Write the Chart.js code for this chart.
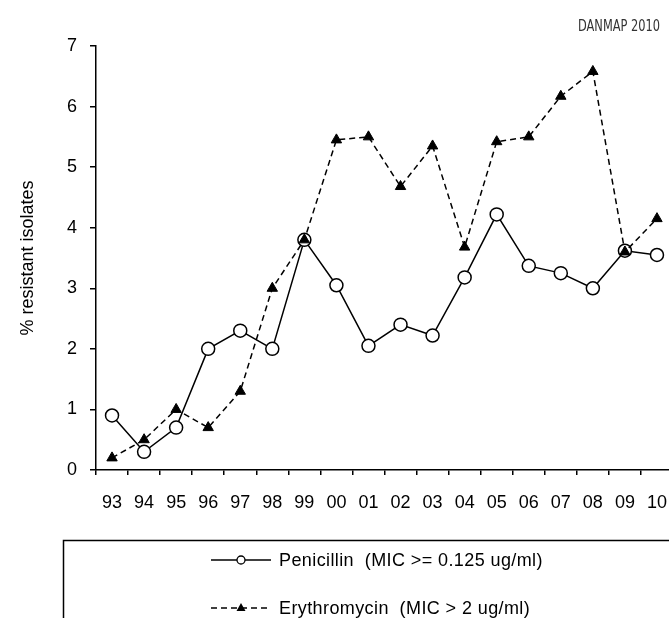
<!DOCTYPE html>
<html>
<head>
<meta charset="utf-8">
<script src="https://cdn.jsdelivr.net/npm/chart.js@4"></script>
<style>
    html, body { margin: 0; padding: 0; background: #fff; overflow: hidden; }
    canvas { display: block; }
</style>
</head>
<body>
<canvas id="resistChart" width="681" height="618"></canvas>
<script>
// values
const years = ['93', '94', '95', '96', '97', '98', '99', '00', '01', '02', '03', '04', '05', '06', '07', '08', '09', '10'];
const penicillin = [0.9, 0.3, 0.7, 2.0, 2.3, 2.0, 3.8, 3.05, 2.05, 2.4, 2.22, 3.18, 4.22, 3.37, 3.25, 3.0, 3.62, 3.55];
const erythromycin = [0.2, 0.5, 1.0, 0.7, 1.3, 3.0, 3.8, 5.45, 5.5, 4.68, 5.35, 3.68, 5.42, 5.5, 6.17, 6.58, 3.6, 4.15];
const yTicks = [0, 1, 2, 3, 4, 5, 6, 7];

const fontFamily = '"Liberation Sans", Arial, sans-serif';

// legend box + source note drawn on top of the chart
const extrasPlugin = {
    id: 'extras',
    afterDraw(chart) {
        const ctx = chart.ctx;
        ctx.save();

        // source note top right, squeezed to the width it has in the original
        ctx.fillStyle = '#333';
        ctx.font = '16px "DejaVu Sans Condensed", "DejaVu Sans", sans-serif';
        ctx.textAlign = 'right';
        ctx.textBaseline = 'middle';
        const noteW = ctx.measureText('DANMAP 2010').width;
        ctx.save();
        ctx.translate(660, 27);
        ctx.scale(Math.min(1, 82 / noteW), 1);
        ctx.fillText('DANMAP 2010', 0, 0);
        ctx.restore();

        // legend frame, runs off the right and bottom edge
        ctx.strokeStyle = '#000';
        ctx.lineWidth = 1.5;
        ctx.strokeRect(63.5, 540.5, chart.width + 20, 120);

        const rows = [560, 608];
        chart.data.datasets.forEach(function(ds, i) {
            const y = rows[i];
            ctx.strokeStyle = '#000';
            ctx.lineWidth = 1.3;
            ctx.setLineDash(ds.borderDash || []);
            ctx.beginPath();
            ctx.moveTo(211, y);
            ctx.lineTo(271, y);
            ctx.stroke();
            ctx.setLineDash([]);

            if (ds.pointStyle === 'circle') {
                ctx.beginPath();
                ctx.arc(241, y, 4, 0, Math.PI * 2);
                ctx.fillStyle = '#fff';
                ctx.fill();
                ctx.stroke();
            } else {
                ctx.beginPath();
                ctx.moveTo(241, y - 5);
                ctx.lineTo(245.5, y + 3);
                ctx.lineTo(236.5, y + 3);
                ctx.closePath();
                ctx.fillStyle = '#000';
                ctx.fill();
            }

            ctx.fillStyle = '#000';
            ctx.font = '18px ' + fontFamily;
            ctx.letterSpacing = '0.4px';
            ctx.textAlign = 'left';
            ctx.textBaseline = 'middle';
            ctx.fillText(ds.label, 279, y + 1);
            ctx.letterSpacing = '0px';
        });

        ctx.restore();
    }
};

const ctx = document.getElementById('resistChart').getContext('2d');
const chart = new Chart(ctx, {
    type: 'line',
    data: {
        labels: years,
        datasets: [{
            label: 'Penicillin  (MIC >= 0.125 ug/ml)',
            data: penicillin,
            borderColor: '#000',
            borderWidth: 1.5,
            pointStyle: 'circle',
            pointRadius: 6.5,
            pointBackgroundColor: '#fff',
            pointBorderColor: '#000',
            pointBorderWidth: 1.5,
            tension: 0,
            order: 1
        }, {
            label: 'Erythromycin  (MIC > 2 ug/ml)',
            data: erythromycin,
            borderColor: '#000',
            borderWidth: 1.5,
            borderDash: [6, 4],
            pointStyle: 'triangle',
            pointRadius: 6,
            pointBackgroundColor: '#000',
            pointBorderColor: '#000',
            pointBorderWidth: 1,
            tension: 0,
            order: 0
        }]
    },
    options: {
        responsive: false,
        animation: false,
        devicePixelRatio: 1,
        layout: { padding: { top: 46, right: 0, left: 0, bottom: 0 } },
        plugins: {
            legend: { display: false },
            tooltip: { enabled: false }
        },
        scales: {
            x: {
                offset: true,
                grid: {
                    offset: true,
                    drawOnChartArea: false,
                    drawTicks: true,
                    tickLength: 5,
                    color: '#000',
                    lineWidth: 1.5
                },
                border: { display: true, color: '#000', width: 1.5 },
                ticks: {
                    autoSkip: false,
                    maxRotation: 0,
                    color: '#000',
                    padding: 17,
                    font: { family: fontFamily, size: 18 }
                },
                afterFit(scale) {
                    scale.height = 148;
                    // axis runs to the canvas edge, no room kept for end labels
                    scale.paddingLeft = 0;
                    scale.paddingRight = 0;
                }
            },
            y: {
                min: 0,
                max: 7,
                afterBuildTicks(scale) {
                    scale.ticks = yTicks.map(function(v) { return { value: v }; });
                },
                grid: {
                    drawOnChartArea: false,
                    drawTicks: true,
                    tickLength: 6,
                    color: '#000',
                    lineWidth: 1.5
                },
                border: { display: true, color: '#000', width: 1.5 },
                ticks: {
                    color: '#000',
                    padding: 13,
                    font: { family: fontFamily, size: 18 }
                },
                title: {
                    display: true,
                    text: '% resistant isolates',
                    color: '#000',
                    font: { family: fontFamily, size: 18 },
                    padding: { top: 17, bottom: 0 }
                },
                afterFit(scale) { scale.width = 96; }
            }
        }
    },
    plugins: [extrasPlugin]
});
</script>
</body>
</html>
